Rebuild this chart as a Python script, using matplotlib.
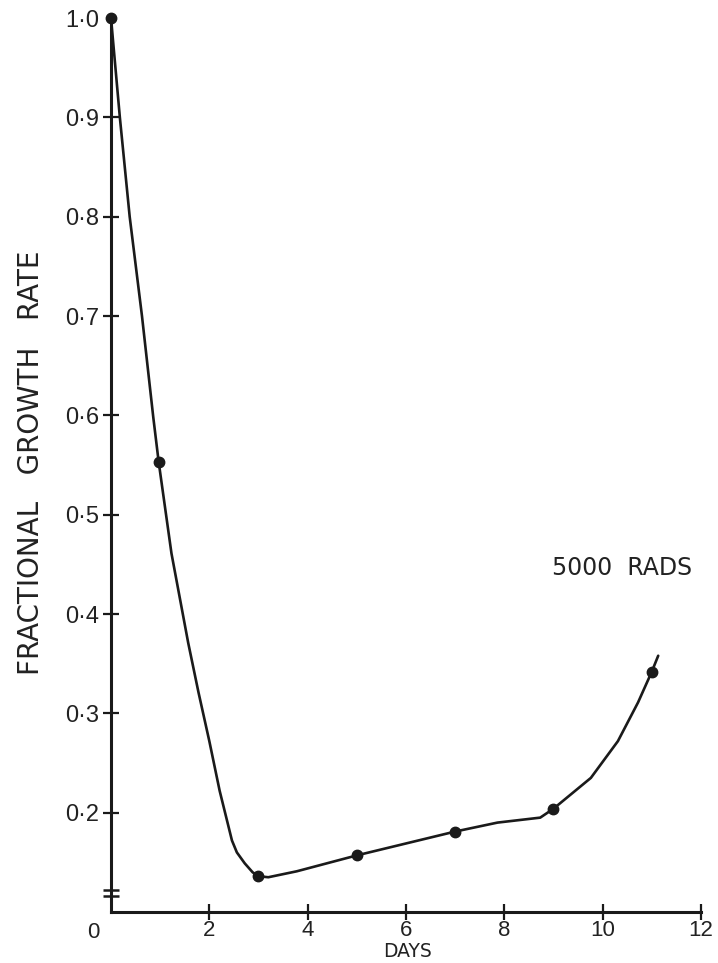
import matplotlib
matplotlib.use('Agg')
import matplotlib.pyplot as plt

# measured data points (dots)
days = [0, 0.97, 3, 5, 7, 9, 11]
rate = [1.0, 0.553, 0.136, 0.157, 0.181, 0.204, 0.342]

# hand-drawn curve
curve_days = [0, 0.18, 0.38, 0.63, 0.86, 0.97, 1.23, 1.57, 1.78, 2.0, 2.21,
              2.41, 2.46, 2.56, 2.72, 2.88, 3.0, 3.2, 3.78, 5.0, 6.0, 7.0,
              7.86, 8.73, 9.0, 9.76, 10.31, 10.72, 11.0, 11.13]
curve_rate = [1.0, 0.9, 0.8, 0.7, 0.598, 0.553, 0.461, 0.371, 0.321, 0.272,
              0.222, 0.182, 0.172, 0.160, 0.149, 0.140, 0.136, 0.135, 0.141,
              0.157, 0.169, 0.181, 0.19, 0.195, 0.204, 0.235, 0.272, 0.311,
              0.342, 0.358]

xticks = [2, 4, 6, 8, 10, 12]
xtick_labels = ['2', '4', '6', '8', '10', '12']
yticks = [0.2, 0.3, 0.4, 0.5, 0.6, 0.7, 0.8, 0.9, 1.0]
ytick_labels = ['0·2', '0·3', '0·4', '0·5', '0·6', '0·7', '0·8', '0·9', '1·0']
break_mark = [0.116, 0.122]

num_font = ['Liberation Sans', 'DejaVu Sans']
txt_font = ['DejaVu Sans']
ink = '#1a1a1a'
txt = '#222222'

fig = plt.figure(figsize=(7.18, 9.63), dpi=100)
ax = fig.add_axes([0.1546, 0.05296, 0.8217, 0.9283])
ax.set_xlim(0, 12)
ax.set_ylim(0.1, 1.0)

for s in ['top', 'right']:
    ax.spines[s].set_visible(False)
for s in ['left', 'bottom']:
    ax.spines[s].set_linewidth(2.2)
    ax.spines[s].set_color(ink)

ax.plot(curve_days, curve_rate, color=ink, lw=1.9, clip_on=False,
        solid_capstyle='round', solid_joinstyle='round', zorder=3)
ax.plot(days, rate, 'o', color=ink, ms=7.5, clip_on=False, zorder=4)
ax.plot([0, 0], break_mark, marker='_', ms=11, mew=1.8, lw=0,
        color=ink, clip_on=False, zorder=5)

ax.set_xticks(xticks)
ax.set_xticklabels(xtick_labels, family=num_font, fontsize=16, color=txt)
ax.set_yticks(yticks)
ax.set_yticklabels(ytick_labels, family=num_font, fontsize=17, color=txt)
ax.tick_params(axis='both', direction='inout', length=11, width=1.6,
               color=ink)
ax.tick_params(axis='x', pad=0)
ax.tick_params(axis='y', pad=3)
ax.yaxis.get_major_ticks()[-1].tick1line.set_visible(False)

ax.text(-0.35, 0.079, '0', family=num_font, fontsize=16, color=txt,
        ha='center', va='center', clip_on=False)
ax.text(6.04, 0.0505, 'DAYS', family=txt_font, fontsize=13.5, color=txt,
        ha='center', va='bottom', clip_on=False)
ax.text(10.4, 0.446, '5000  RADS', family=txt_font, fontsize=17,
        color=txt, ha='center', va='center')

fig.text(31 / 718, 1 - 463 / 963, 'FRACTIONAL   GROWTH   RATE',
         family=txt_font, fontsize=20, color=txt, rotation=90,
         ha='center', va='center')

fig.savefig('out.png', dpi=100, facecolor='white')
